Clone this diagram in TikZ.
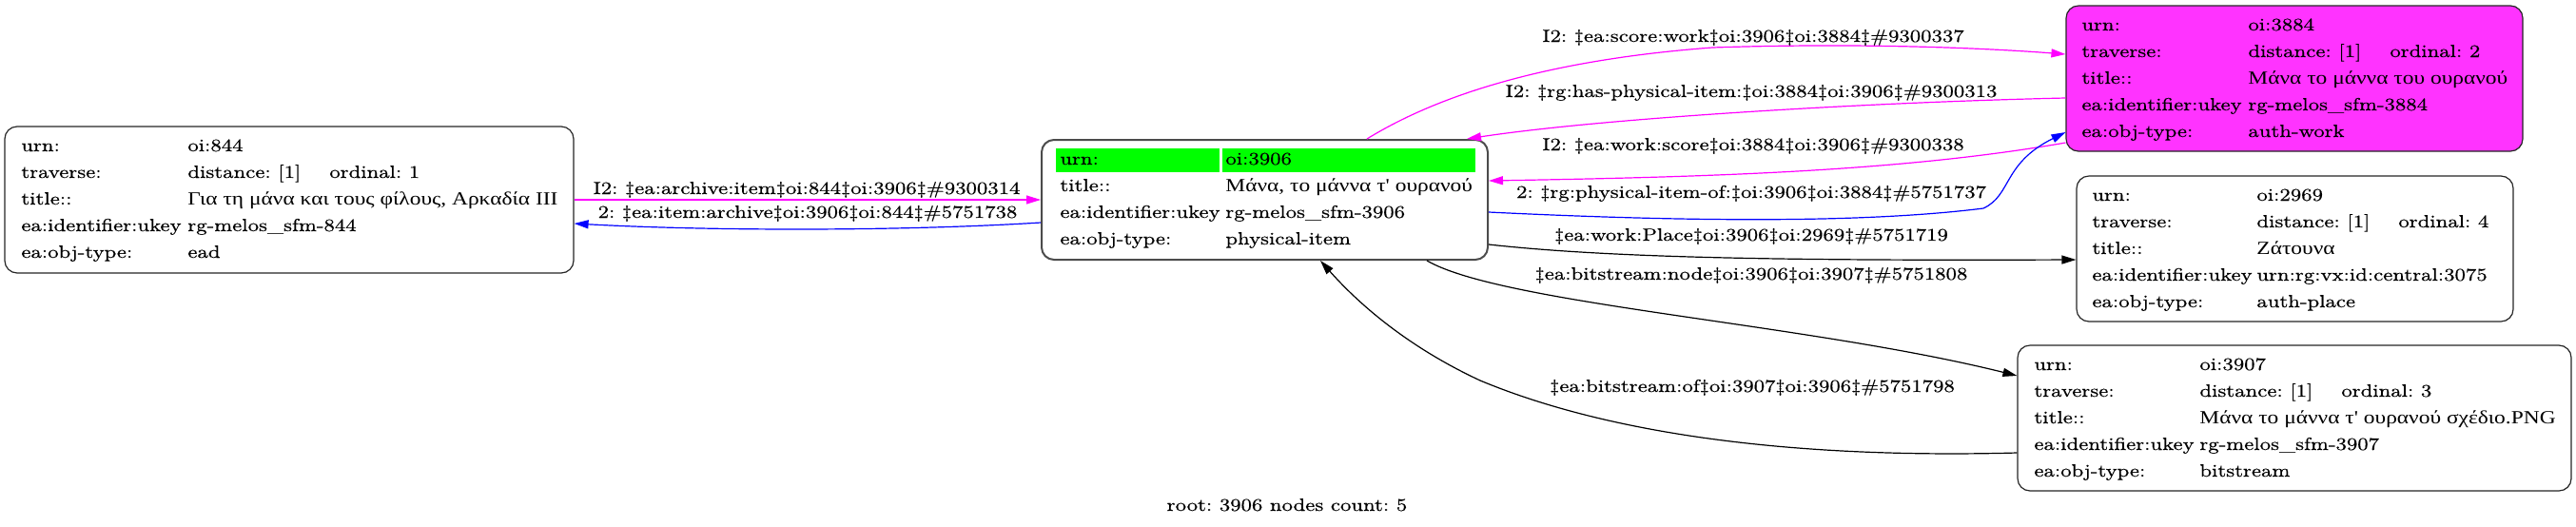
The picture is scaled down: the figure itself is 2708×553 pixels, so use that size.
\documentclass[tikz,border=0pt]{standalone}
\usepackage{fontspec}
\setmainfont{Latin Modern Roman}[FakeStretch=1.19,FakeBold=0.4]
\newfontfamily\gr{Liberation Serif}[FakeStretch=1.2,Scale=1.05,Ligatures=TeXOff]
\usetikzlibrary{arrows.meta}
\definecolor{mag}{HTML}{FF00FF}
\definecolor{magfill}{HTML}{FF33FF}
\definecolor{grn}{HTML}{00FF00}
\definecolor{blu}{HTML}{0000FF}
\frenchspacing
\begin{document}
\begin{tikzpicture}[x=0.5pt,y=-0.5pt,
  font=\fontsize{9.3}{11}\selectfont,
  box/.style={draw=black!85, fill=white, line width=0.6pt, rounded corners=6.5pt, inner sep=0pt},
  txt/.style={anchor=base west, inner sep=0pt},
  lab/.style={anchor=base, inner sep=0pt},
  edge/.style={line width=0.6pt, -{Triangle[length=7.5pt,width=4.5pt]}},
  ]
\useasboundingbox (0,0) rectangle (2708,553);
% boxes
\node[box, minimum width=299pt, minimum height=77pt] (l) at (304,210) {};
\node[box, draw=black!70, line width=1pt, minimum width=234.5pt, minimum height=63pt] (c) at (1329.5,210) {};
\node[box, fill=magfill, minimum width=240pt, minimum height=76.5pt] (m) at (2412,82.5) {};
\node[box, minimum width=229.5pt, minimum height=76.5pt] (p) at (2412.5,261.5) {};
\node[box, minimum width=291pt, minimum height=76.5pt] (b) at (2412,439.5) {};
\fill[grn] (1110,156) rectangle (1282,181);
\fill[grn] (1285,156) rectangle (1551,181);
% left node
\node[txt] (l1k) at (22,159) {urn:};
\node[txt] (l1v) at (197,159) {oi:844};
\node[txt] (l2k) at (22,187) {traverse:};
\node[txt] (l2v) at (197,187) {distance: [1]\hspace{15pt}ordinal: 1};
\node[txt] (l3k) at (22,215) {title::};
\node[txt] (l3v) at (197,215) {\gr Για τη μάνα και τους φίλους, Αρκαδία ΙΙΙ};
\node[txt] (l4k) at (22,243) {ea:identifier:ukey};
\node[txt] (l4v) at (197,243) {rg-melos\_sfm-844};
\node[txt] (l5k) at (22,271) {ea:obj-type:};
\node[txt] (l5v) at (197,271) {ead};
% center node
\node[txt] (c1k) at (1114,173) {urn:};
\node[txt] (c1v) at (1288,173) {oi:3906};
\node[txt] (c2k) at (1114,201) {title::};
\node[txt] (c2v) at (1288,201) {\gr Μάνα, το μάννα τ' ουρανού};
\node[txt] (c3k) at (1114,229) {ea:identifier:ukey};
\node[txt] (c3v) at (1288,229) {rg-melos\_sfm-3906};
\node[txt] (c4k) at (1114,257) {ea:obj-type:};
\node[txt] (c4v) at (1288,257) {physical-item};
% magenta node
\node[txt] (m1k) at (2188,32) {urn:};
\node[txt] (m1v) at (2363,32) {oi:3884};
\node[txt] (m2k) at (2188,60) {traverse:};
\node[txt] (m2v) at (2363,60) {distance: [1]\hspace{15pt}ordinal: 2};
\node[txt] (m3k) at (2188,88) {title::};
\node[txt] (m3v) at (2363,88) {\gr Μάνα το μάννα του ουρανού};
\node[txt] (m4k) at (2188,116) {ea:identifier:ukey};
\node[txt] (m4v) at (2363,116) {rg-melos\_sfm-3884};
\node[txt] (m5k) at (2188,144) {ea:obj-type:};
\node[txt] (m5v) at (2363,144) {auth-work};
% place node
\node[txt] (p1k) at (2199,211) {urn:};
\node[txt] (p1v) at (2372,211) {oi:2969};
\node[txt] (p2k) at (2199,239) {traverse:};
\node[txt] (p2v) at (2372,239) {distance: [1]\hspace{15pt}ordinal: 4};
\node[txt] (p3k) at (2199,267) {title::};
\node[txt] (p3v) at (2372,267) {\gr Ζάτουνα};
\node[txt] (p4k) at (2199,295) {ea:identifier:ukey};
\node[txt] (p4v) at (2372,295) {urn:rg:vx:id:central:3075};
\node[txt] (p5k) at (2199,323) {ea:obj-type:};
\node[txt] (p5v) at (2372,323) {auth-place};
% bitstream node
\node[txt] (b1k) at (2138,389) {urn:};
\node[txt] (b1v) at (2312,389) {oi:3907};
\node[txt] (b2k) at (2138,417) {traverse:};
\node[txt] (b2v) at (2312,417) {distance: [1]\hspace{15pt}ordinal: 3};
\node[txt] (b3k) at (2138,445) {title::};
\node[txt] (b3v) at (2312,445) {\gr Μάνα το μάννα τ' ουρανού σχέδιο.PNG};
\node[txt] (b4k) at (2138,473) {ea:identifier:ukey};
\node[txt] (b4v) at (2312,473) {rg-melos\_sfm-3907};
\node[txt] (b5k) at (2138,501) {ea:obj-type:};
\node[txt] (b5v) at (2312,501) {bitstream};
% edges
\draw[edge, mag] (l.east) -- (c.west);
\draw[edge, blu] ([yshift=-12pt]c.west) .. controls (950,243) and (750,243) .. ([yshift=-12.5pt]l.east);
\draw[edge, mag] ([xshift=53.75pt]c.north) .. controls (1520,95) and (1640,62) .. (1800,50) .. controls (1950,45) and (2080,50) .. ([yshift=12.75pt]m.west);
\draw[edge, mag] ([yshift=-10.25pt]m.west) .. controls (1950,108) and (1680,125) .. ([xshift=106.25pt]c.north);
\draw[edge, mag] ([yshift=-33.75pt]m.west) .. controls (2000,180) and (1800,186) .. ([yshift=10pt]c.east);
\draw[edge, blu] ([yshift=-6.5pt]c.east) .. controls (1750,232) and (1950,236) .. (2085,219) .. controls (2115,205) and (2105,172) .. ([yshift=-28.25pt]m.west);
\draw[edge] ([yshift=-23.5pt]c.east) .. controls (1700,272) and (1900,274) .. ([yshift=-5.75pt]p.west);
\draw[edge] ([xshift=85.25pt]c.south) .. controls (1580,320) and (1900,340) .. ([yshift=22.25pt]b.west);
\draw[edge] ([yshift=-18.25pt]b.west) .. controls (1900,482) and (1700,460) .. (1556,400) .. controls (1470,360) and (1420,310) .. ([xshift=29.25pt]c.south);
% edge labels
\node[lab] (e1) at (848,204) {I2: ‡ea:archive:item‡oi:844‡oi:3906‡\#9300314};
\node[lab] (e2) at (849,229) {2: ‡ea:item:archive‡oi:3906‡oi:844‡\#5751738};
\node[lab] (e3) at (1843,44) {I2: ‡ea:score:work‡oi:3906‡oi:3884‡\#9300337};
\node[lab] (e4) at (1841,102) {I2: ‡rg:has-physical-item:‡oi:3884‡oi:3906‡\#9300313};
\node[lab] (e5) at (1843,158) {I2: ‡ea:work:score‡oi:3884‡oi:3906‡\#9300338};
\node[lab] (e6) at (1841,208) {2: ‡rg:physical-item-of:‡oi:3906‡oi:3884‡\#5751737};
\node[lab] (e7) at (1841,253) {‡ea:work:Place‡oi:3906‡oi:2969‡\#5751719};
\node[lab] (e8) at (1841,294) {‡ea:bitstream:node‡oi:3906‡oi:3907‡\#5751808};
\node[lab] (e9) at (1842,412) {‡ea:bitstream:of‡oi:3907‡oi:3906‡\#5751798};
\node[lab] (root) at (1353,537) {root: 3906 nodes count: 5};
\end{tikzpicture}
\end{document}
